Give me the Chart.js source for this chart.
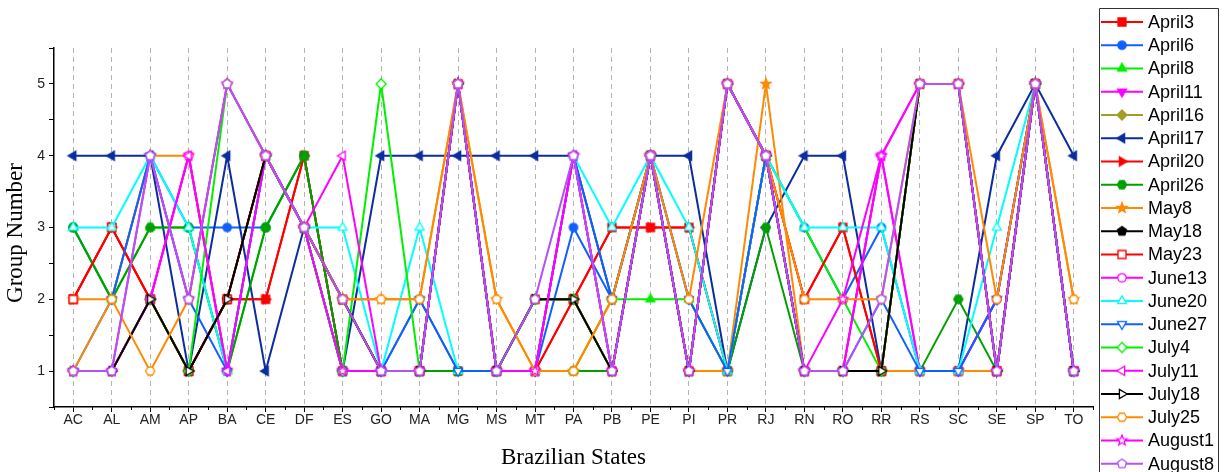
<!DOCTYPE html>
<html><head><meta charset="utf-8">
<script src="https://cdn.jsdelivr.net/npm/chart.js@4.4.1/dist/chart.umd.min.js"></script>
<style>html,body{margin:0;padding:0;background:#fff;}#wrap{width:1229px;height:472px;}</style>
</head><body><div id="wrap"><canvas id="c" width="1229" height="472"></canvas></div>
<script>
const states = ['AC','AL','AM','AP','BA','CE','DF','ES','GO','MA','MG','MS','MT','PA','PB','PE','PI','PR','RJ','RN','RO','RR','RS','SC','SE','SP','TO'];
const yTicks = [1,2,3,4,5];
const seriesNames = ['April3','April6','April8','April11','April16','April17','April20','April26','May8','May18','May23','June13','June20','June27','July4','July11','July18','July25','August1','August8'];

const April3  = [2,3,2,1,2,2,4,1,1,1,1,1,1,2,3,3,3,1,4,2,3,1,1,1,1,5,1];
const April6  = [3,2,4,3,3,3,4,1,1,2,1,1,1,3,2,4,2,1,4,3,2,3,1,1,2,5,1];
const April8  = [3,2,3,3,1,3,4,1,1,1,1,1,1,1,2,2,2,1,4,3,2,1,1,1,1,5,1];
const April11 = [1,1,2,4,1,4,3,1,1,1,5,1,1,4,1,4,1,5,4,1,1,4,1,1,2,5,1];
const April16 = [1,1,2,1,2,4,3,2,1,1,5,1,2,2,1,4,1,5,4,1,1,1,5,5,1,5,1];
const April17 = [4,4,4,1,4,1,3,1,4,4,4,4,4,4,2,4,4,1,3,4,4,1,1,1,4,5,4];
const April20 = [2,3,2,1,2,2,4,1,1,1,1,1,1,2,3,3,3,1,4,2,3,1,1,1,1,5,1];
const April26 = [3,2,3,3,1,3,4,1,1,1,1,1,1,1,1,4,1,1,3,1,1,1,1,2,1,5,1];
const May8    = [2,2,4,4,1,4,3,2,2,2,5,2,1,1,2,4,1,1,5,1,1,1,1,1,1,5,2];
const May18   = [1,1,2,1,2,4,3,2,1,1,5,1,2,2,1,4,1,5,4,1,1,1,5,5,1,5,1];
const May23   = [2,3,2,1,2,4,3,2,1,1,5,1,2,2,1,4,1,5,4,1,1,1,5,5,1,5,1];
const June13  = [1,1,2,4,1,4,3,1,1,1,5,1,1,4,1,4,1,5,4,1,1,4,1,1,2,5,1];
const June20  = [3,3,4,3,1,4,3,3,1,3,1,1,1,4,3,4,3,1,4,3,3,3,1,1,3,5,1];
const June27  = [1,2,4,2,1,4,3,1,1,2,1,1,1,4,2,4,2,1,4,1,1,2,1,1,2,5,1];
const July4   = [1,1,2,1,5,4,3,1,5,1,5,1,2,2,1,4,1,5,4,1,1,1,5,5,1,5,1];
const July11  = [1,1,2,4,1,4,3,4,1,1,5,1,1,4,1,4,1,5,4,1,1,4,5,5,1,5,1];
const July18  = [1,1,2,1,2,4,3,2,1,1,5,1,2,2,1,4,1,5,4,1,1,1,5,5,1,5,1];
const July25  = [1,2,1,2,5,4,3,2,2,2,5,2,1,1,2,4,2,5,4,2,2,2,5,5,2,5,2];
const August1 = [1,1,4,2,5,4,3,1,1,1,5,1,1,4,1,4,1,5,4,1,2,4,5,5,1,5,1];
const August8 = [1,1,4,2,5,4,3,2,1,1,5,1,2,4,1,4,1,5,4,1,1,2,5,5,1,5,1];

const seriesData = [April3,April6,April8,April11,April16,April17,April20,April26,May8,May18,May23,June13,June20,June27,July4,July11,July18,July25,August1,August8];

const RED='#FF0000', BLUE='#1060FF', GREEN='#00F000', MAG='#FF00FF', OLIVE='#A39D28', NAVY='#0B2DA0', DKGREEN='#00A000', ORANGE='#FF8A00', BLACK='#000000', CYAN='#00FFFF', PURPLE='#B352F5';
const styles = [
  [RED,'square',true],[BLUE,'circle',true],[GREEN,'up',true],[MAG,'down',true],[OLIVE,'diamond',true],
  [NAVY,'left',true],[RED,'right',true],[DKGREEN,'hexagon',true],[ORANGE,'star',true],[BLACK,'pentagon',true],
  [RED,'square',false],[MAG,'circle',false],[CYAN,'up',false],[BLUE,'down',false],[GREEN,'diamond',false],
  [MAG,'left',false],[BLACK,'right',false],[ORANGE,'hexagon',false],[MAG,'star',false],[PURPLE,'pentagon',false]
];

function marker(shape, color, filled){
  const s = 14, c = document.createElement('canvas'); c.width = s; c.height = s;
  const g = c.getContext('2d'); const cx = s/2, cy = s/2;
  g.beginPath();
  const poly = (n, rot, rad) => { for (let k=0;k<n;k++){ const a = rot + k*2*Math.PI/n; const x = cx + rad*Math.cos(a), y = cy + rad*Math.sin(a); if(k) g.lineTo(x,y); else g.moveTo(x,y);} g.closePath(); };
  switch(shape){
    case 'square': g.rect(cx-4, cy-4, 8, 8); break;
    case 'circle': g.arc(cx,cy,4.2,0,2*Math.PI); break;
    case 'up': poly(3,-Math.PI/2,5.2); break;
    case 'down': poly(3,Math.PI/2,5.2); break;
    case 'left': poly(3,Math.PI,5.2); break;
    case 'right': poly(3,0,5.2); break;
    case 'diamond': poly(4,-Math.PI/2,5); break;
    case 'hexagon': poly(6,0,4.6); break;
    case 'pentagon': poly(5,-Math.PI/2,4.8); break;
    case 'star': for(let k=0;k<10;k++){const a=-Math.PI/2+k*Math.PI/5; const rr=k%2?2.3:5.4; const x=cx+rr*Math.cos(a), y=cy+rr*Math.sin(a); if(k) g.lineTo(x,y); else g.moveTo(x,y);} g.closePath(); break;
  }
  g.fillStyle = filled ? color : '#ffffff'; g.fill();
  g.lineWidth = 1.3; g.strokeStyle = color; g.stroke();
  return c;
}

const N = seriesNames.length;
const datasets = seriesNames.map((name, i) => {
  const [col, shp, fil] = styles[i];
  const m = marker(shp, col, fil);
  return {
    label: name, data: seriesData[i], borderColor: col, backgroundColor: col,
    borderWidth: 2, tension: 0, pointStyle: m, pointRadius: 5, pointHoverRadius: 5,
    order: N - i, fill: false, _marker: m
  };
});

const overlay = {
  id: 'overlay',
  afterDraw(chart){
    const ctx = chart.ctx, xs = chart.scales.x, ys = chart.scales.y;
    ctx.save();
    ctx.strokeStyle = '#000'; ctx.lineWidth = 1;
    const step = (xs.right - xs.left) / states.length;
    for (let i = 0; i <= states.length; i++) {
      const x = Math.round(xs.left + i*step) + 0.5;
      ctx.beginPath(); ctx.moveTo(x, ys.bottom); ctx.lineTo(x, ys.bottom + 3); ctx.stroke();
    }
    ctx.fillStyle = '#000';
    ctx.font = '23px "Liberation Serif", "Times New Roman", serif';
    ctx.textAlign = 'center'; ctx.textBaseline = 'alphabetic';
    ctx.fillText('Brazilian States', (xs.left + xs.right)/2, 464);
    ctx.save();
    ctx.translate(22, 233); ctx.rotate(-Math.PI/2);
    ctx.fillText('Group Number', 0, 0);
    ctx.restore();
    // legend box (open at the bottom edge of the picture)
    ctx.strokeStyle = '#333'; ctx.lineWidth = 1;
    ctx.beginPath();
    ctx.moveTo(1099.5, 480); ctx.lineTo(1099.5, 8.5); ctx.lineTo(1218.5, 8.5); ctx.lineTo(1218.5, 480);
    ctx.stroke();
    ctx.font = '18px "Liberation Sans", Arial, sans-serif';
    ctx.textAlign = 'left'; ctx.textBaseline = 'middle';
    chart.data.datasets.forEach((ds, i) => {
      const y = 22 + i * 23.25;
      ctx.strokeStyle = ds.borderColor; ctx.lineWidth = 2;
      ctx.beginPath(); ctx.moveTo(1101, y); ctx.lineTo(1143, y); ctx.stroke();
      const m = ds._marker; ctx.drawImage(m, 1122 - m.width/2, y - m.height/2);
      ctx.fillStyle = '#000'; ctx.fillText(ds.label, 1148, y + 1);
    });
    ctx.restore();
  }
};

new Chart(document.getElementById('c'), {
  type: 'line',
  data: { labels: states, datasets },
  options: {
    responsive: false, animation: false, events: [],
    layout: { padding: { left: 0, right: 136, top: 48, bottom: 0 } },
    plugins: { legend: { display: false }, tooltip: { enabled: false } },
    scales: {
      x: {
        type: 'category', offset: true,
        afterFit: s => { s.height = 65; },
        grid: { offset: false, color: '#b4b4b4', lineWidth: 1, drawOnChartArea: true, drawTicks: true, tickLength: 5, tickColor: '#000', tickBorderDash: [], tickWidth: 1 },
        border: { display: true, color: '#000', width: 1.5, dash: [5, 4] },
        ticks: { color: '#222', font: { family: '"Liberation Sans", Arial, sans-serif', size: 14 }, padding: 0, maxRotation: 0, autoSkip: false }
      },
      y: {
        min: 0.5, max: 5.5,
        afterFit: s => { s.width = 54; },
        grid: { drawOnChartArea: false, drawTicks: true, tickLength: 5, tickColor: '#000', color: '#000' },
        border: { display: true, color: '#000', width: 1.5 },
        ticks: { stepSize: 0.5, color: '#222', padding: 4, font: { family: '"Liberation Sans", Arial, sans-serif', size: 14 },
          callback: v => yTicks.includes(v) ? String(v) : '' }
      }
    }
  },
  plugins: [overlay]
});
</script></body></html>
